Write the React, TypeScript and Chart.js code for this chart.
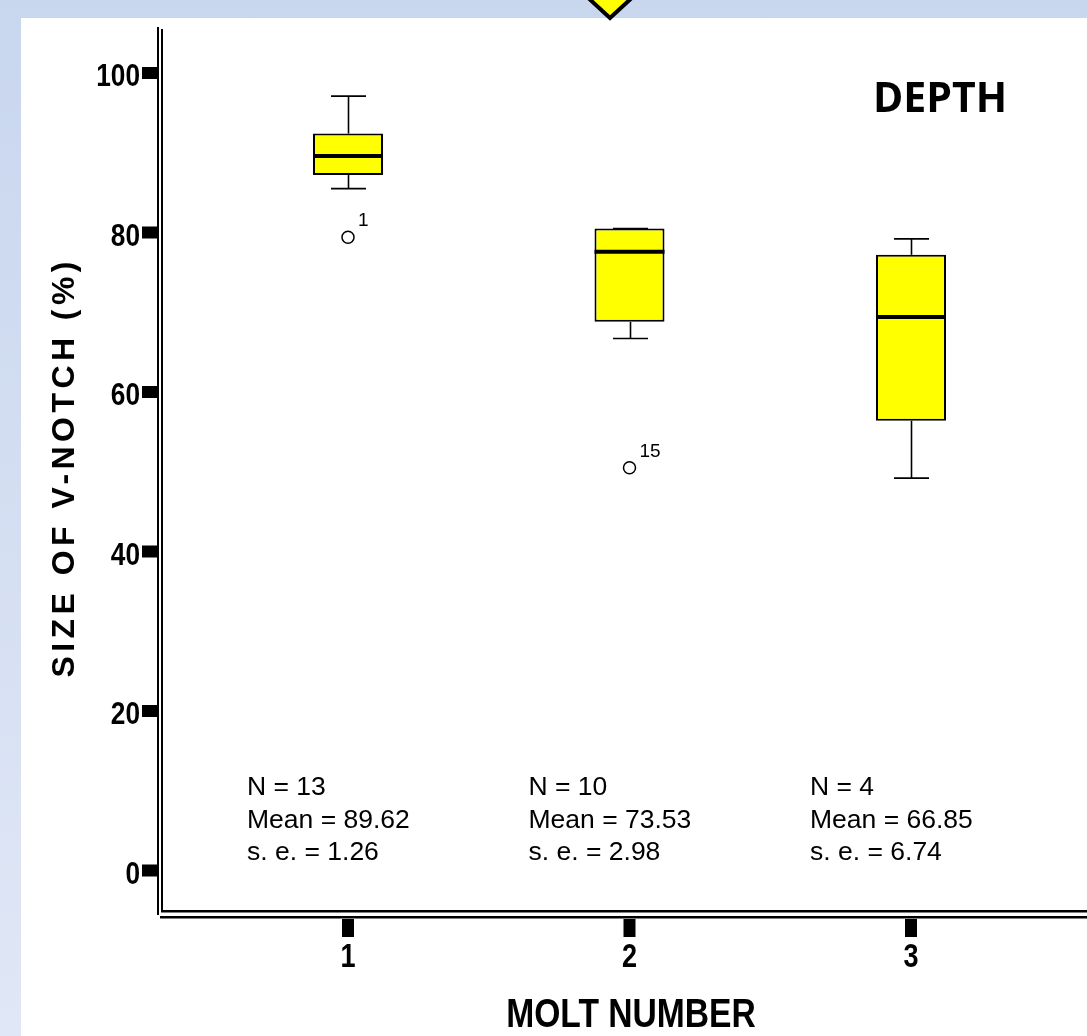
import React, { useEffect, useRef } from 'react';
import { Chart, registerables } from 'chart.js';

Chart.register(...registerables);

// ---- data ----
const categories = [1, 2, 3];
const whiskerLow = [85.5, 66.7, 49.2];
const q1 = [87.2, 68.8, 56.4];
const medians = [89.6, 77.6, 69.4];
const q3 = [92.4, 80.5, 77.2];
const whiskerHigh = [97.1, 80.5, 79.2];
const outlierX = [1, 2];
const outlierY = [79.4, 50.5];
const outlierLabels = ['1', '15'];
const nValues = ['13', '10', '4'];
const meanValues = ['89.62', '73.53', '66.85'];
const seValues = ['1.26', '2.98', '6.74'];
const yTicks = [0, 20, 40, 60, 80, 100];
const xTickLabels = ['1', '2', '3'];
const xTitle = 'MOLT NUMBER';
const yTitle = 'SIZE OF V-NOTCH (%)';
const panelTitle = 'DEPTH';

const SANS = '"Liberation Sans", Arial, sans-serif';
const NARROW_SCALE = 0.82;

function narrowText(ctx: CanvasRenderingContext2D, text: string, x: number, y: number, align: CanvasTextAlign) {
  ctx.save();
  ctx.translate(x, y);
  ctx.scale(NARROW_SCALE, 1);
  ctx.textAlign = align;
  ctx.textBaseline = 'alphabetic';
  ctx.fillText(text, 0, 0);
  ctx.restore();
}

const extrasPlugin = {
  id: 'boxExtras',
  beforeDatasetsDraw(chart: any) {
    const { ctx, scales } = chart;
    const x = scales.x;
    const y = scales.y;
    ctx.save();
    ctx.strokeStyle = '#000';
    ctx.lineWidth = 1.6;
    categories.forEach((c, i) => {
      const px = Math.round(x.getPixelForValue(c)) + 0.5;
      const pairs = [
        [whiskerHigh[i], q3[i]],
        [whiskerLow[i], q1[i]],
      ];
      pairs.forEach(([w, q]) => {
        const pw = y.getPixelForValue(w);
        const pq = y.getPixelForValue(q);
        ctx.beginPath();
        ctx.moveTo(px, pw);
        ctx.lineTo(px, pq);
        ctx.stroke();
        ctx.beginPath();
        ctx.moveTo(px - 17.5, pw);
        ctx.lineTo(px + 17.5, pw);
        ctx.stroke();
      });
    });
    ctx.restore();
  },
  afterDatasetsDraw(chart: any) {
    const { ctx, scales } = chart;
    const x = scales.x;
    const y = scales.y;
    ctx.save();
    ctx.strokeStyle = '#000';
    ctx.lineWidth = 4;
    categories.forEach((c, i) => {
      const px = x.getPixelForValue(c);
      const py = y.getPixelForValue(medians[i]);
      ctx.beginPath();
      ctx.moveTo(px - 35, py);
      ctx.lineTo(px + 35, py);
      ctx.stroke();
    });
    ctx.fillStyle = '#000';
    ctx.font = `19px ${SANS}`;
    ctx.textAlign = 'left';
    ctx.textBaseline = 'alphabetic';
    outlierX.forEach((ox, i) => {
      const px = x.getPixelForValue(ox);
      const py = y.getPixelForValue(outlierY[i]);
      ctx.fillText(outlierLabels[i], px + 10, py - 11);
    });
    ctx.restore();
  },
  afterDraw(chart: any) {
    const { ctx, scales, chartArea } = chart;
    const x = scales.x;
    const y = scales.y;
    const L = chartArea.left;
    const B = chartArea.bottom;
    const T = chartArea.top;
    const R = chart.width;
    ctx.save();
    ctx.fillStyle = '#000';
    // axis double lines
    ctx.fillRect(L - 4, T - 2, 2, B + 5 - (T - 2));
    ctx.fillRect(L, T, 2, B + 2 - T);
    ctx.fillRect(L, B, R - L, 2.5);
    ctx.fillRect(L - 1, B + 6, R - L + 1, 2.5);
    // y ticks
    ctx.font = `bold 32px ${SANS}`;
    yTicks.forEach((v) => {
      const py = y.getPixelForValue(v);
      ctx.fillRect(L - 19, py - 6, 16, 12);
      narrowText(ctx, String(v), L - 21, py + 13.5, 'right');
    });
    // x ticks
    ctx.font = `bold 33px ${SANS}`;
    categories.forEach((c, i) => {
      const px = x.getPixelForValue(c);
      ctx.fillRect(px - 6, B + 9, 12, 18);
      narrowText(ctx, xTickLabels[i], px, B + 57, 'center');
    });
    // x title
    ctx.font = `bold 41px ${SANS}`;
    narrowText(ctx, xTitle, 631, 1027, 'center');
    // stats text
    ctx.font = `26.5px ${SANS}`;
    ctx.textAlign = 'left';
    ctx.textBaseline = 'alphabetic';
    categories.forEach((c, i) => {
      const px = x.getPixelForValue(c) - 101;
      ctx.fillText(`N = ${nValues[i]}`, px, B - 115);
      ctx.fillText(`Mean = ${meanValues[i]}`, px, B - 82);
      ctx.fillText(`s. e. = ${seValues[i]}`, px, B - 50);
    });
    // panel title
    ctx.font = `bold 41px "Open Sans", ${SANS}`;
    ctx.fillText(panelTitle, 873, 112);
    // y title
    ctx.font = `bold 32px ${SANS}`;
    const targetLen = 416;
    const w0 = ctx.measureText(yTitle).width;
    const ls = Math.max(0, (targetLen - w0) / (yTitle.length - 1));
    ctx.translate(74, (T + B) / 2);
    ctx.rotate(-Math.PI / 2);
    ctx.textAlign = 'left';
    ctx.textBaseline = 'alphabetic';
    if ('letterSpacing' in ctx) {
      (ctx as any).letterSpacing = `${ls}px`;
      ctx.fillText(yTitle, -targetLen / 2, 0);
    } else {
      ctx.fillText(yTitle, -w0 / 2, 0);
    }
    ctx.restore();
  },
};

export default function App() {
  const canvasRef = useRef<HTMLCanvasElement | null>(null);

  useEffect(() => {
    const canvas = canvasRef.current;
    if (!canvas) return;
    const chart = new Chart(canvas, {
      type: 'bar',
      data: {
        datasets: [
          {
            type: 'bar',
            data: categories.map((c, i) => ({ x: c, y: [q1[i], q3[i]] })),
            backgroundColor: '#ffff00',
            borderColor: '#000',
            borderWidth: 2,
            borderSkipped: false,
            barThickness: 70,
            inflateAmount: 0,
          } as any,
          {
            type: 'scatter',
            data: outlierX.map((ox, i) => ({ x: ox, y: outlierY[i] })),
            pointStyle: 'circle',
            pointRadius: 6,
            pointBorderWidth: 1.5,
            pointBorderColor: '#000',
            pointBackgroundColor: '#fff',
          } as any,
        ],
      },
      options: {
        responsive: false,
        animation: false,
        layout: { autoPadding: false, padding: { top: 29, left: 0, right: 0, bottom: 0 } },
        plugins: { legend: { display: false }, tooltip: { enabled: false } },
        scales: {
          x: {
            type: 'linear',
            offset: false,
            min: 0.3357,
            max: 3.6714,
            grid: { display: false, offset: false },
            border: { display: false },
            afterBuildTicks: (s: any) => {
              s.ticks = categories.map((v) => ({ value: v }));
            },
            afterFit: (s: any) => {
              s.height = 126;
              s.paddingLeft = 0;
              s.paddingRight = 0;
            },
            ticks: { display: false },
            title: { display: false },
          },
          y: {
            type: 'linear',
            min: -4.953,
            max: 105.517,
            grid: { display: false },
            border: { display: false },
            afterBuildTicks: (s: any) => {
              s.ticks = yTicks.map((v) => ({ value: v }));
            },
            afterFit: (s: any) => {
              s.width = 161;
              s.paddingTop = 0;
              s.paddingBottom = 0;
            },
            ticks: { display: false },
          },
        },
      } as any,
      plugins: [extrasPlugin],
    });
    return () => chart.destroy();
  }, []);

  return (
    <div
      style={{
        position: 'absolute',
        left: 0,
        top: 0,
        width: 1087,
        height: 1036,
        overflow: 'hidden',
        background: 'linear-gradient(#c8d6ee, #e0e7f6)',
      }}
    >
      <div style={{ position: 'absolute', left: 21, top: 18, right: 0, bottom: 0, background: '#fff' }} />
      <canvas
        ref={canvasRef}
        width={1100}
        height={1036}
        style={{ position: 'absolute', left: 0, top: 0, width: 1100, height: 1036 }}
      />
      <svg width={1087} height={40} style={{ position: 'absolute', left: 0, top: 0 }}>
        <polygon
          points="584,-6 636,-6 610,18"
          fill="#ffff00"
          stroke="#000"
          strokeWidth={4}
          strokeLinejoin="miter"
        />
      </svg>
    </div>
  );
}
